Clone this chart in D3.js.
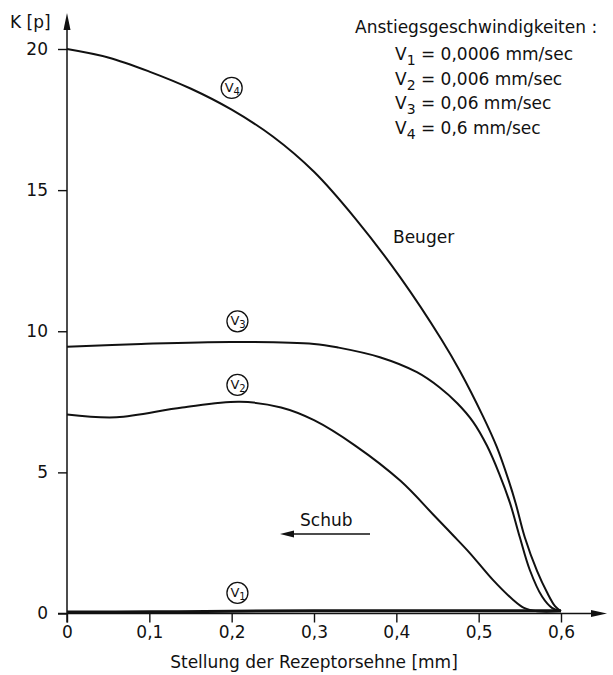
<!DOCTYPE html>
<html>
<head>
<meta charset="utf-8">
<script src="https://cdn.jsdelivr.net/npm/d3@7"></script>
<style>
  body { margin: 0; background: #fff; }
  svg { display: block; }
  text { font-family: "DejaVu Sans", sans-serif; fill: #111; }
</style>
</head>
<body>
<script>
// Kraft K [p] gegen Stellung der Rezeptorsehne [mm], vier Anstiegsgeschwindigkeiten
var xTicks = [0, 0.1, 0.2, 0.3, 0.4, 0.5, 0.6];
var yTicks = [0, 5, 10, 15, 20];

var v4X = [0, 0.05, 0.1, 0.15, 0.2, 0.25, 0.3, 0.35, 0.405, 0.455, 0.477, 0.505, 0.522, 0.536, 0.545, 0.556, 0.571, 0.583, 0.593, 0.60];
var v4K = [20, 19.7, 19.2, 18.6, 17.85, 16.9, 15.65, 14.0, 11.9, 9.7, 8.6, 7.0, 5.9, 4.75, 3.9, 2.7, 1.5, 0.75, 0.25, 0.08];

var v3X = [0, 0.09, 0.2, 0.3, 0.33, 0.38, 0.425, 0.453, 0.474, 0.493, 0.51, 0.525, 0.538, 0.55, 0.562, 0.577, 0.589, 0.60];
var v3K = [9.45, 9.55, 9.62, 9.55, 9.42, 9.08, 8.55, 8.0, 7.45, 6.8, 5.95, 4.95, 3.92, 2.7, 1.55, 0.6, 0.2, 0.08];

var v2X = [0, 0.06, 0.14, 0.21, 0.26, 0.30, 0.35, 0.405, 0.445, 0.468, 0.489, 0.517, 0.542, 0.555, 0.571, 0.60];
var v2K = [7.05, 6.95, 7.3, 7.5, 7.3, 6.85, 5.95, 4.7, 3.5, 2.8, 2.15, 1.2, 0.48, 0.2, 0.08, 0.08];

var v1X = [0, 0.1, 0.2, 0.3, 0.4, 0.5, 0.6];
var v1K = [0.05, 0.06, 0.08, 0.1, 0.1, 0.1, 0.1];

var legendLines = [
  {sub: "1", rest: " = 0,0006 mm/sec"},
  {sub: "2", rest: " = 0,006 mm/sec"},
  {sub: "3", rest: " = 0,06 mm/sec"},
  {sub: "4", rest: " = 0,6 mm/sec"}
];

var width = 613, height = 675;
var svg = d3.select("body").append("svg")
  .attr("width", width).attr("height", height);

var x = d3.scaleLinear().domain([0, 0.6]).range([67, 561]);
var y = d3.scaleLinear().domain([0, 20]).range([613.5, 49]);

var comma = function(d) { return d === 0 ? "0" : d3.format(".1f")(d).replace(".", ","); };

// axes
var gx = svg.append("g").attr("transform", "translate(0," + y(0) + ")")
  .call(d3.axisBottom(x).tickValues(xTicks).tickSize(9).tickPadding(3).tickFormat(comma));
var gy = svg.append("g").attr("transform", "translate(" + x(0) + ",0)")
  .call(d3.axisLeft(y).tickValues(yTicks).tickSize(9).tickPadding(10));
[gx, gy].forEach(function(g) {
  g.select(".domain").remove();
  g.selectAll(".tick line").attr("stroke", "#111").attr("stroke-width", 1.4);
  g.selectAll(".tick text").style("font-size", "17px").attr("fill", "#111");
});

// axis lines with arrows
svg.append("line").attr("x1", x(0) - 9).attr("x2", 596)
  .attr("y1", y(0)).attr("y2", y(0)).attr("stroke", "#111").attr("stroke-width", 1.5);
svg.append("path").attr("d", "M607," + y(0) + "L591," + (y(0) - 3.5) + "L591," + (y(0) + 3.5) + "Z")
  .attr("fill", "#111");
svg.append("line").attr("x1", x(0)).attr("x2", x(0))
  .attr("y1", y(0) + 9).attr("y2", 26).attr("stroke", "#111").attr("stroke-width", 1.5);
svg.append("path").attr("d", "M" + x(0) + ",13L" + (x(0) - 3.5) + ",30L" + (x(0) + 3.5) + ",30Z")
  .attr("fill", "#111");

svg.append("text").attr("x", 10).attr("y", 28).style("font-size", "17px").text("K [p]");
svg.append("text").attr("x", 314).attr("y", 668).attr("text-anchor", "middle")
  .style("font-size", "17px").text("Stellung der Rezeptorsehne [mm]");

// curves
var line = d3.line()
  .x(function(d) { return x(d[0]); })
  .y(function(d) { return y(Math.max(d[1], 0)); })
  .curve(d3.curveCatmullRom.alpha(0.5));

var series = [
  {xs: v1X, ks: v1K, w: 3},
  {xs: v2X, ks: v2K, w: 2},
  {xs: v3X, ks: v3K, w: 2},
  {xs: v4X, ks: v4K, w: 2}
];
series.forEach(function(s) {
  svg.append("path")
    .datum(d3.zip(s.xs, s.ks))
    .attr("d", line)
    .attr("fill", "none")
    .attr("stroke", "#111")
    .attr("stroke-width", s.w)
    .attr("stroke-linejoin", "round");
});

// circled curve labels
var tags = [
  {n: "1", x: 0.207, k: 0.73},
  {n: "2", x: 0.207, k: 8.1},
  {n: "3", x: 0.207, k: 10.35},
  {n: "4", x: 0.2, k: 18.62}
];
tags.forEach(function(t) {
  var g = svg.append("g").attr("transform", "translate(" + x(t.x) + "," + y(t.k) + ")");
  g.append("circle").attr("r", 10.5).attr("fill", "#fff").attr("stroke", "#111").attr("stroke-width", 1.3);
  var tx = g.append("text").attr("x", -7).attr("y", 4).style("font-size", "13px");
  tx.append("tspan").text("V");
  tx.append("tspan").attr("dy", 3).style("font-size", "10px").text(t.n);
});

// legend
svg.append("text").attr("x", 355).attr("y", 33).style("font-size", "17px")
  .text("Anstiegsgeschwindigkeiten :");
legendLines.forEach(function(l, i) {
  var t = svg.append("text").attr("x", 395).attr("y", 60 + i * 24.5).style("font-size", "17px");
  t.append("tspan").text("V");
  t.append("tspan").attr("dy", 5).style("font-size", "14px").text(l.sub);
  t.append("tspan").attr("dy", -5).text(l.rest);
});

svg.append("text").attr("x", 393).attr("y", 243).style("font-size", "17px").text("Beuger");
svg.append("text").attr("x", 300).attr("y", 526).style("font-size", "17px").text("Schub");
svg.append("line").attr("x1", 370).attr("x2", 290).attr("y1", 534).attr("y2", 534)
  .attr("stroke", "#111").attr("stroke-width", 1.5);
svg.append("path").attr("d", "M280,534L294,530.5L294,537.5Z").attr("fill", "#111");
</script>
</body>
</html>
